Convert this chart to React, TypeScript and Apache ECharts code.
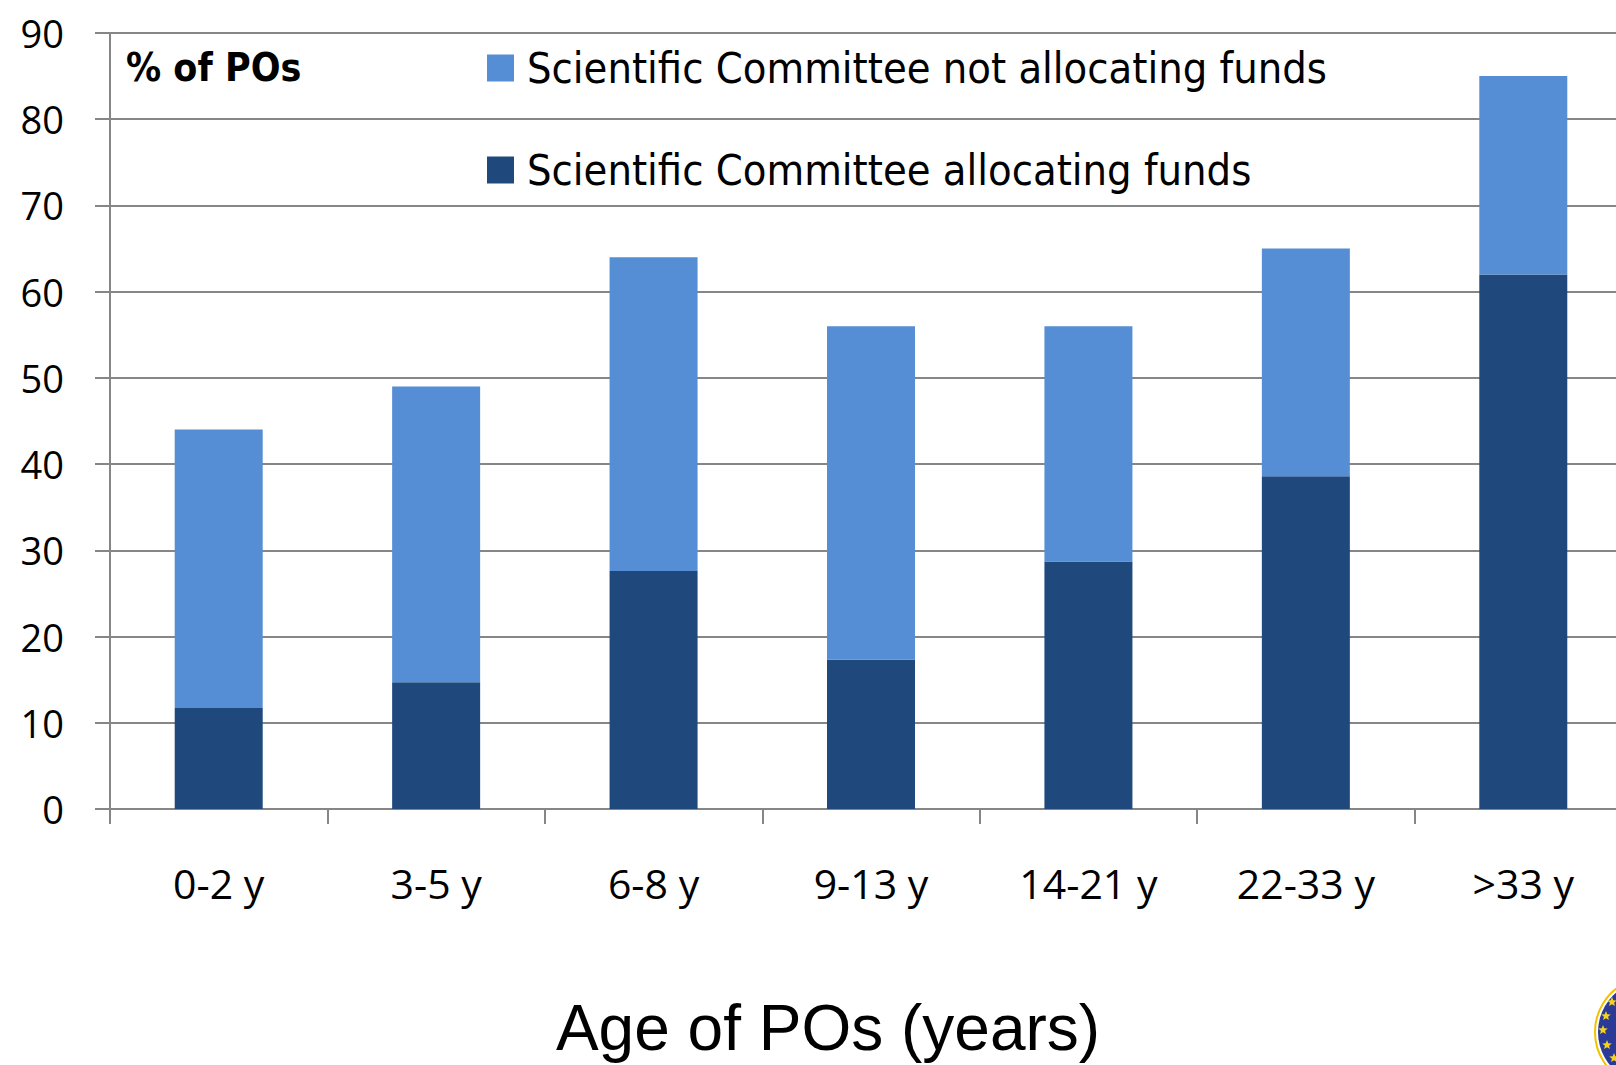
import React, { useEffect, useRef } from 'react';
import * as echarts from 'echarts';

const categories = ['0-2 y', '3-5 y', '6-8 y', '9-13 y', '14-21 y', '22-33 y', '>33 y'];
const allocatingFunds = [11.7, 14.7, 27.6, 17.3, 28.7, 38.6, 62.0];
const notAllocatingFunds = [32.3, 34.3, 36.4, 38.7, 27.3, 26.4, 23.0];
const seriesNames = ['Scientific Committee not allocating funds', 'Scientific Committee allocating funds'];
const yMin = 0;
const yMax = 90;
const yInterval = 10;
const axisTitle = 'Age of POs (years)';
const yUnitLabel = '% of POs';

const LIGHT = '#558ED5';
const DARK = '#1F497D';
const GRID = '#868686';
const NARROW = "'DejaVu Sans Condensed', 'Open Sans', sans-serif";
const TICKFONT = "'Open Sans', 'Noto Sans', sans-serif";

function starPoints(cx: number, cy: number, R: number, r: number): number[][] {
  const pts: number[][] = [];
  for (let i = 0; i < 10; i++) {
    const a = -Math.PI / 2 + (i * Math.PI) / 5;
    const rad = i % 2 === 0 ? R : r;
    pts.push([cx + rad * Math.cos(a), cy + rad * Math.sin(a)]);
  }
  return pts;
}

export default function App() {
  const ref = useRef<HTMLDivElement>(null);
  useEffect(() => {
    if (!ref.current) return;
    const chart = echarts.init(ref.current, null, { renderer: 'svg' });
    const starCenters = [
      [1612, 1002],
      [1606, 1016],
      [1603, 1030],
      [1607, 1045],
      [1614, 1058],
    ];
    chart.setOption({
      animation: false,
      backgroundColor: '#ffffff',
      grid: {
        left: 110,
        top: 33,
        width: 1522,
        height: 776,
        containLabel: false,
        outerBoundsMode: 'none',
      },
      legend: {
        data: seriesNames,
        orient: 'vertical',
        left: 487,
        top: 45,
        padding: 0,
        icon: 'rect',
        itemWidth: 27,
        itemHeight: 27,
        itemGap: 56,
        selectedMode: false,
        textStyle: {
          fontFamily: NARROW,
          fontSize: 43,
          lineHeight: 46,
          color: '#000',
          padding: [0, 0, 0, 8],
        },
      },
      xAxis: {
        type: 'category',
        data: categories,
        axisLine: { show: true, lineStyle: { color: GRID, width: 2 } },
        axisTick: { show: true, length: 15, lineStyle: { color: GRID, width: 2 } },
        axisLabel: {
          interval: 0,
          fontFamily: TICKFONT,
          fontSize: 41,
          color: '#000',
          margin: 53,
        },
      },
      yAxis: {
        type: 'value',
        min: yMin,
        max: yMax,
        interval: yInterval,
        axisLine: { show: true, lineStyle: { color: GRID, width: 2 } },
        axisTick: { show: true, length: 15, lineStyle: { color: GRID, width: 2 } },
        splitLine: { show: true, lineStyle: { color: GRID, width: 2 } },
        axisLabel: {
          fontFamily: TICKFONT,
          fontSize: 38,
          color: '#000',
          margin: 46,
        },
      },
      series: [
        {
          name: seriesNames[1],
          type: 'bar',
          stack: 'total',
          barWidth: 88,
          data: allocatingFunds,
          itemStyle: { color: DARK },
        },
        {
          name: seriesNames[0],
          type: 'bar',
          stack: 'total',
          barWidth: 88,
          data: notAllocatingFunds,
          itemStyle: { color: LIGHT },
        },
      ],
      graphic: [
        {
          type: 'text',
          x: 126,
          y: 67,
          style: {
            text: yUnitLabel,
            font: `bold 39px ${NARROW}`,
            fill: '#000',
            verticalAlign: 'middle',
            align: 'left',
          },
        },
        {
          type: 'text',
          x: 828,
          y: 1028,
          style: {
            text: axisTitle,
            font: "64px 'Liberation Sans', Arial, sans-serif",
            fill: '#000',
            verticalAlign: 'middle',
            align: 'center',
          },
        },
        {
          type: 'circle',
          shape: { cx: 1650, cy: 1032, r: 55 },
          style: { fill: 'none', stroke: '#F2C200', lineWidth: 2 },
        },
        {
          type: 'circle',
          shape: { cx: 1650, cy: 1032, r: 52 },
          style: { fill: '#2A3A96' },
        },
        ...starCenters.map((c) => ({
          type: 'polygon',
          shape: { points: starPoints(c[0], c[1], 5, 2.2) },
          style: { fill: '#F7D21A' },
        })),
      ],
    });
    return () => chart.dispose();
  }, []);
  return (
    <div
      ref={ref}
      style={{ position: 'absolute', left: 0, top: 0, width: 1616, height: 1065, background: '#fff' }}
    />
  );
}
